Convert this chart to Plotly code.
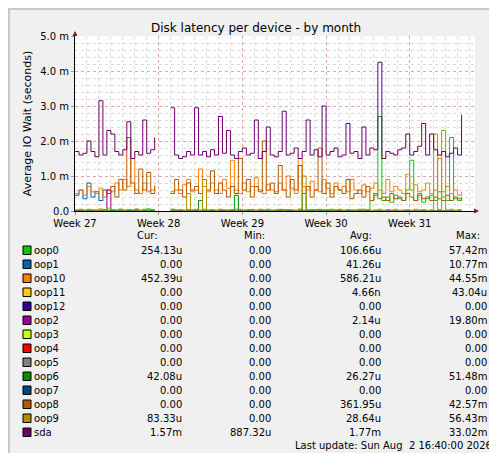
import plotly.graph_objects as go

step_hours = 8
week_ticks = ["Week 27", "Week 28", "Week 29", "Week 30", "Week 31"]
ytick_labels = ["0.0", "1.0 m", "2.0 m", "3.0 m", "4.0 m", "5.0 m"]

N = None
sda = [1.7,1.6,1.65,2.0,1.7,1.55,3.15,1.6,2.3,2.2,
       1.7,1.6,1.75,2.55,1.5,1.7,1.6,2.6,1.65,1.75,
       2.1,N,N,N,2.95,1.6,1.5,1.55,1.7,1.6,
       2.95,1.6,1.7,1.55,1.75,1.6,2.7,1.65,2.3,1.6,
       1.5,1.7,1.8,1.6,1.65,2.6,1.5,1.7,2.4,1.6,
       1.55,1.7,2.85,1.6,1.65,1.8,1.5,1.7,2.6,1.6,
       1.75,1.55,3.0,1.6,1.7,1.8,1.55,1.6,2.5,1.65,
       1.7,1.5,2.4,1.6,1.8,1.75,4.25,1.5,1.7,1.65,
       1.6,1.75,1.8,2.2,1.6,1.7,1.85,2.5,1.6,2.2,
       1.75,1.6,1.7,1.55,1.65,1.8,1.6,2.75]
oop10 = [.5,.6,.45,.7,.55,.5,.65,.4,.6,.55,
         .8,.6,.9,.7,1.5,.6,.5,.8,.55,.6,
         .75,N,N,N,.55,.6,.5,.75,.9,.55,
         .6,1.2,.7,.55,.8,.6,.5,.9,.65,1.45,
         .6,.5,.8,.55,.7,.95,.6,.5,.75,.6,
         .55,.8,.6,1.0,.65,.5,1.5,.7,.6,.85,
         .6,.55,.9,.65,.5,.8,.6,.7,.55,.9,
         .6,.5,.75,.55,.65,.8,.6,.5,.9,.55,
         .7,.6,.5,1.05,.6,.75,.55,.6,.8,.5,
         .6,1.5,.55,.7,.5,.6,.45,.55]
oop8 = [N,N,N,N,N,N,N,N,.5,.7,
        .4,.9,.6,2.1,.8,.5,1.2,.6,1.1,.5,
        .7,N,N,N,.5,.9,.6,.4,.8,.6,
        .7,.5,.9,.6,1.15,.5,.8,.6,.4,.7,
        .5,1.5,.6,.9,.4,.7,.55,2.0,.6,.8,
        .5,1.3,.6,.4,.9,.6,1.3,.5,.7,.4,
        .6,1.8,.5,.8,.4,.7,.6,.5,.9,.35,
        .5,.6,.4,.7,.3,.5,.35,.4,.3,.5,
        .35,.4,.3,.5,.4,.3,.45,.35,.4,.3,
        .4,.35,.3,.45,.3,.4,.35,.3]
oop1 = [.45,.6,.35,.8,.4,.55,.3,.6,.45,N,
        N,N,N,N,N,N,N,N,N,N,
        N,N,N,N,N,N,N,N,N,N,
        N,N,N,N,N,N,N,N,N,N,
        N,N,N,N,N,N,N,N,N,N,
        N,N,N,N,N,N,N,N,N,N,
        N,N,N,N,N,N,N,N,N,N,
        N,N,N,N,N,N,N,N,N,N,
        N,N,N,N,N,N,N,N,N,N,
        N,N,N,N,N,N,N,.02]
oop0 = [.02,.03,.02,.05,.02,.03,.02,.04,.02,.03,
        .02,.05,.02,.03,.02,.04,.02,.03,.06,.02,
        .03,N,N,N,.05,.02,.03,.02,.04,.02,
        .03,.02,.05,.02,.03,.02,.04,.02,.03,.02,
        .05,.02,.03,.02,.04,.02,.03,.02,.05,.02,
        .03,.02,.04,.02,.03,.02,.05,.02,.03,.02,
        .04,.02,.03,.02,.05,.02,.03,.02,.04,.02,
        .03,.02,.05,.02,.3,.45,2.7,.3,.4,.25,
        .45,.35,.3,.6,1.45,.3,.5,.25,.35,.45,
        .3,.55,.4,.3,2.1,.35,.3,.4]
oop6 = [0,0,0,0,0,0,0,0,0,0,
        0,0,0,.02,0,0,0,0,0,0,
        0,N,N,N,0,0,0,0,0,0,
        0,.3,0,0,0,0,0,0,0,0,
        .45,0,0,0,0,0,0,0,0,0,
        0,0,0,0,0,0,0,.5,0,0,
        0,0,0,0,0,0,0,0,0,0,
        0,0,0,0,0,0,0,0,0,0,
        0,0,0,0,0,0,0,0,0,0,
        0,0,0,0,0,0,0,0]
oop9 = [.03,.05,.02,.04,.03,.02,.06,.03,.08,.04,
        .03,.05,.02,.04,.03,.06,.02,.05,.03,.04,
        .02,N,N,N,.05,.03,.04,.02,.5,.03,
        .05,.02,.9,.03,.04,.02,.05,.03,.02,.04,
        .03,.05,.02,.04,.03,.02,.05,.03,.04,.02,
        .03,.05,.02,.04,.03,.02,.05,1.0,.03,.04,
        .02,.05,.03,.04,.02,.03,.05,.02,.04,.03,
        .02,.05,.03,.04,.02,.03,.05,.02,.04,.03,
        .05,.02,.03,.04,.02,.05,.03,.04,.02,.03,
        2.2,.04,2.3,.03,.05,.02,.04,.03]
oop2 = [0,0,0,0,0,0,0,0,.6,0,
        0,0,0,0,0,0,0,0,0,0,
        0,N,N,N,0,0,0,0,0,0,
        0,0,0,0,0,0,0,0,0,0,
        0,0,0,0,0,0,0,0,0,0,
        0,0,0,0,0,0,0,0,0,0,
        0,0,0,0,0,0,0,0,0,0,
        0,0,0,0,0,0,0,0,0,0,
        0,0,0,0,0,0,0,0,0,0,
        0,0,0,0,0,0,0,0]

names = ["oop0","oop1","oop10","oop11","oop12","oop2","oop3","oop4","oop5","oop6","oop7","oop8","oop9","sda"]
colors = ["#00cc00","#0066b3","#ff8000","#ffcc00","#330099","#990099","#ccff00","#ff0000","#808080","#008f00","#00487d","#b35a00","#b38f00","#6b006b"]
cur = ["254.13u","0.00","452.39u","0.00","0.00","0.00","0.00","0.00","0.00","42.08u","0.00","0.00","83.33u","1.57m"]
mins = ["0.00","0.00","0.00","0.00","0.00","0.00","0.00","0.00","0.00","0.00","0.00","0.00","0.00","887.32u"]
avgs = ["106.66u","41.26u","586.21u","4.66n","0.00","2.14u","0.00","0.00","0.00","26.27u","0.00","361.95u","28.64u","1.77m"]
maxs = ["57.42m","10.77m","44.55m","43.04u","0.00","19.80m","0.00","0.00","0.00","51.48m","0.00","42.57m","56.43m","33.02m"]

x = [i * step_hours for i in range(len(sda))]
series = {"oop0": oop0, "oop1": oop1, "oop10": oop10, "oop2": oop2,
          "oop6": oop6, "oop8": oop8, "oop9": oop9, "sda": sda}

fig = go.Figure()
for n, c in zip(names, colors):
    if n in series:
        fig.add_trace(go.Scatter(x=x, y=series[n], mode="lines", line=dict(color=c, width=1, shape="hv"),
                                 connectgaps=False, showlegend=False, hoverinfo="skip"))

W, H = 497, 453
L, R, T, B = 67, 467, 28, 203

def fx(p):
    return (p - L) / (R - L)

def fy(p):
    return (B - p) / (B - T)

fig.update_layout(
    width=W, height=H, margin=dict(l=L, r=W - R, t=T, b=H - B),
    paper_bgcolor="#f0f0f0", plot_bgcolor="#ffffff",
    font=dict(family="DejaVu Sans", size=10, color="#000"),
    xaxis=dict(range=[0, 803], tickvals=[0, 168, 336, 504, 672], ticktext=week_ticks,
               showgrid=True, gridcolor="rgba(230,130,130,0.6)", griddash="dot", gridwidth=1,
               minor=dict(dtick=24, showgrid=True, gridcolor="#dcdcdc", griddash="dot", ticks=""),
               ticks="outside", ticklen=3, tickcolor="#999", showline=True, linecolor="#000",
               zeroline=False, fixedrange=True, tickfont=dict(size=10)),
    yaxis=dict(range=[0, 5], tickvals=[0, 1, 2, 3, 4, 5], ticktext=ytick_labels,
               showgrid=True, gridcolor="rgba(230,130,130,0.6)", griddash="dot",
               minor=dict(dtick=0.2, showgrid=True, gridcolor="#dcdcdc", griddash="dot", ticks=""),
               ticks="outside", ticklen=3, tickcolor="#999", showline=True, linecolor="#000",
               zeroline=False, fixedrange=True, tickfont=dict(size=10),
               title=dict(text="Average IO Wait (seconds)", font=dict(size=11), standoff=6)),
)

def px(xp, yp, text, anchor="left", size=10, **kw):
    fig.add_annotation(x=fx(xp), y=fy(yp), xref="paper", yref="paper", text=text, showarrow=False,
                       xanchor=anchor, yanchor="middle", font=dict(size=size, color="#000"), **kw)

px(248, 20, "Disk latency per device - by month", "center", 12)
px(488, 150, "RRDTOOL / TOBI OETIKER", "center", 8, textangle=90, opacity=0.45)
fig.add_annotation(x=fx(471), y=fy(B), xref="paper", yref="paper", ax=-6, ay=0, text="",
                   arrowhead=2, arrowsize=1, arrowcolor="#8b1a1a", showarrow=True)
fig.add_annotation(x=fx(L), y=fy(23), xref="paper", yref="paper", ax=0, ay=6, text="",
                   arrowhead=2, arrowsize=1, arrowcolor="#8b1a1a", showarrow=True)

px(152, 227, "Cur:", "right"); px(259, 227, "Min:", "right")
px(366, 227, "Avg:", "right"); px(474, 227, "Max:", "right")
shapes = []
for i, n in enumerate(names):
    yy = 242 + i * 14.0
    shapes.append(dict(type="rect", xref="paper", yref="paper", x0=fx(15), x1=fx(23),
                       y0=fy(yy + 4.5), y1=fy(yy - 4), fillcolor=colors[i],
                       line=dict(color="#000", width=1)))
    px(24, yy, n)
    px(176, yy, cur[i], "right"); px(265, yy, mins[i], "right")
    px(375, yy, avgs[i], "right"); px(481, yy, maxs[i], "right")
px(486, 437, "Last update: Sun Aug  2 16:40:00 2026", "right")
shapes.append(dict(type="rect", xref="paper", yref="paper", x0=fx(1), x1=fx(W - 1), y0=fy(H - 1), y1=fy(1),
                   line=dict(color="#c8c8c8", width=2)))
fig.update_layout(shapes=shapes)
fig.write_html("out.html")
